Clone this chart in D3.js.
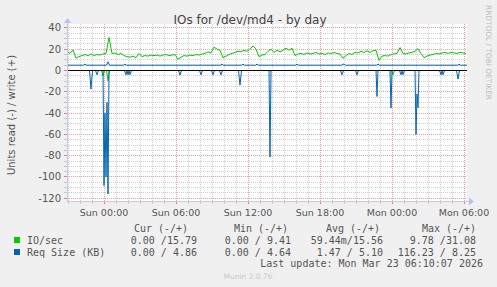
<!DOCTYPE html>
<html>
<head>
<meta charset="utf-8">
<script src="https://cdn.jsdelivr.net/npm/d3@7"></script>
<style>
  body { margin: 0; background: #f0f0f0; }
  svg { display: block; }
  text { white-space: pre; }
</style>
</head>
<body>
<script>
// IO/sec write (+), one value every 15 minutes from Sat 20:55
var ioWrite = [18, 16, 19.5, 11.5, 13, 14, 15, 14, 15.5, 14,
  15, 14.5, 15.5, 16, 31, 16, 16.5, 15, 16, 14,
  13, 12.5, 13.5, 12, 16, 13, 14, 13.5, 14.5, 14,
  14.5, 13.5, 14.5, 15, 14, 14.5, 15, 10.5, 12.5, 14,
  13.5, 14.5, 14, 15, 14.5, 15.5, 16, 17.5, 16.5, 22,
  20, 19, 12, 13.5, 15, 16, 17, 18, 17.5, 19,
  18, 20, 23, 20, 13, 14.5, 15, 18, 20, 17,
  19, 17.5, 19, 21, 19, 21, 14, 15.5, 16, 15,
  16.5, 15.5, 16, 17, 15.5, 16, 15, 16.5, 16, 17,
  16, 15.5, 11.5, 14, 16, 15, 17, 16.5, 18, 17,
  18.5, 17, 18.5, 19, 9.5, 13.5, 14, 13.5, 15, 15.5,
  16, 21.5, 16, 15.5, 16.5, 17, 18, 20.5, 16, 12,
  13.5, 14.5, 15, 16, 15.5, 16.5, 17, 16, 17, 16.5,
  16, 17, 16.5, 16];

// [5-minute step, value] points
var reqWrite = [[0, 5], [16.5, 5], [18, 6], [19.5, 5], [39.5, 5], [41, 8.2], [42.5, 5],
  [56.5, 5], [58, 6], [59.5, 5], [153.5, 5], [155, 6], [156.5, 5], [174.5, 5], [176, 6], [177.5, 5],
  [188.5, 5], [190, 6], [191.5, 5], [228.5, 5], [230, 6], [231.5, 5], [274.5, 5], [276, 6], [277, 6],
  [278.5, 5], [309.5, 5], [311, 6], [312.5, 5], [390.5, 5], [392, 6], [393.5, 5], [400, 5]];

var ioRead = [[0, 0], [34.5, 0], [36, -5], [37.5, 0], [39.5, 0], [41, -9.8], [42.5, 0],
  [324.5, 0], [326, -4], [327.5, 0], [400, 0]];

var reqRead = [[0, 0], [22.5, 0], [24, -17.5], [25.5, 0], [28.5, 0], [30, -4], [31.5, 0],
  [36, 0], [37, -108], [38, -40], [39, -100], [40, -30], [41, -116], [42, 0],
  [57.5, 0], [59, -4], [60, 0], [61, -4], [62, 0], [63, -4], [64.5, 0],
  [111.5, 0], [113, -4.3], [114.5, 0], [132.5, 0], [134, -4], [135.5, 0],
  [144.5, 0], [146, -4], [147.5, 0], [152.5, 0], [154, -4], [155.5, 0],
  [171.5, 0], [173, -13.7], [174.5, 0], [202, 0], [203, -81.3], [204, 0],
  [273.5, 0], [275, -4], [276.5, 0], [288.5, 0], [290, -4], [291.5, 0],
  [309, 0], [310, -24.4], [311, 0], [323, 0], [324, -35.3], [325, 0],
  [332.5, 0], [334, -4], [335, 0], [336, -4], [337.5, 0],
  [348, 0], [349, -60], [350, -22], [351, -35], [352, 0],
  [372.5, 0], [374, -4], [375, 0], [376, -4], [377.5, 0],
  [389.5, 0], [391, -8], [392.5, 0], [400, 0]];

var yTicks = [-120, -100, -80, -60, -40, -20, 0, 20, 40];
var xTickLabels = ["Sun 00:00", "Sun 06:00", "Sun 12:00", "Sun 18:00", "Mon 00:00", "Mon 06:00"];
var legendHead = ["Cur (-/+)", "Min (-/+)", "Avg (-/+)", "Max (-/+)"];
var seriesNames = ["IO/sec", "Req Size (KB)"];
var seriesColors = ["#00cc00", "#0066b3"];
var ioStats = ["0.00 /15.79", "0.00 / 9.41", "59.44m/15.56", "9.78 /31.08"];
var reqStats = ["0.00 / 4.86", "0.00 / 4.64", "1.47 / 5.10", "116.23 / 8.25"];

var w = 497, h = 287;
var padL = 67, padR = 467, padT = 24, padB = 201;
var start = new Date(2026, 2, 21, 20, 55);
var end = new Date(start.getTime() + 400 * 5 * 60000);
var step5 = function(k) { return new Date(start.getTime() + k * 5 * 60000); };

var svg = d3.select("body").append("svg").attr("width", w).attr("height", h);
svg.append("rect").attr("width", w).attr("height", h).attr("fill", "#f0f0f0");

var x = d3.scaleTime().domain([start, end]).range([padL, padR]);
var y = d3.scaleLinear().domain([-122.54, 43.66]).range([padB, padT]);

svg.append("rect").attr("x", padL).attr("y", padT)
   .attr("width", padR - padL).attr("height", padB - padT).attr("fill", "#ffffff");

// grid
var grid = svg.append("g").attr("shape-rendering", "crispEdges");
var minorY = d3.range(-120, 41, 5);
grid.selectAll(".hmin").data(minorY.filter(function(v) { return v % 20 != 0; }))
  .enter().append("line")
  .attr("x1", padL).attr("x2", padR)
  .attr("y1", function(d) { return Math.floor(y(d)) + 0.5; })
  .attr("y2", function(d) { return Math.floor(y(d)) + 0.5; })
  .attr("stroke", "#d0d0d0").attr("stroke-dasharray", "1,1");

var hours = d3.timeHour.range(start, end);
grid.selectAll(".vmin").data(hours.filter(function(d) { return d.getHours() % 6 != 0; }))
  .enter().append("line")
  .attr("x1", function(d) { return Math.round(x(d)) + 0.5; })
  .attr("x2", function(d) { return Math.round(x(d)) + 0.5; })
  .attr("y1", padT).attr("y2", padB)
  .attr("stroke", "#d0d0d0").attr("stroke-dasharray", "1,1");

grid.selectAll(".hmaj").data(yTicks).enter().append("line")
  .attr("x1", padL).attr("x2", padR)
  .attr("y1", function(d) { return Math.floor(y(d)) + 0.5; })
  .attr("y2", function(d) { return Math.floor(y(d)) + 0.5; })
  .attr("stroke", "#e8a0a0").attr("stroke-dasharray", "1,1");

var majors = hours.filter(function(d) { return d.getHours() % 6 == 0; });
grid.selectAll(".vmaj").data(majors).enter().append("line")
  .attr("x1", function(d) { return Math.round(x(d)) + 0.5; })
  .attr("x2", function(d) { return Math.round(x(d)) + 0.5; })
  .attr("y1", padT).attr("y2", padB)
  .attr("stroke", "#e8a0a0").attr("stroke-dasharray", "1,1");

// ticks under x axis and left of y axis
grid.selectAll(".tmin").data(hours).enter().append("line")
  .attr("x1", function(d) { return Math.round(x(d)) + 0.5; })
  .attr("x2", function(d) { return Math.round(x(d)) + 0.5; })
  .attr("y1", padB).attr("y2", padB + 3)
  .attr("stroke", function(d) { return d.getHours() % 6 == 0 ? "#e08080" : "#c8c8c8"; });
grid.selectAll(".tymin").data(minorY).enter().append("line")
  .attr("x1", padL - 3).attr("x2", padL)
  .attr("y1", function(d) { return Math.floor(y(d)) + 0.5; })
  .attr("y2", function(d) { return Math.floor(y(d)) + 0.5; })
  .attr("stroke", function(d) { return d % 20 == 0 ? "#e08080" : "#c8c8c8"; });

// series
var lineIdx = d3.line()
  .x(function(d, i) { return x(new Date(start.getTime() + i * 15 * 60000)); })
  .y(function(d) { return y(d); });
var linePts = d3.line()
  .x(function(d) { return x(step5(d[0])); })
  .y(function(d) { return y(d[1]); });

svg.append("path").datum(ioRead).attr("d", linePts)
  .attr("fill", "none").attr("stroke", seriesColors[0]).attr("stroke-width", 1);
svg.append("path").datum(ioWrite).attr("d", lineIdx)
  .attr("fill", "none").attr("stroke", seriesColors[0]).attr("stroke-width", 1);
svg.append("path").datum(reqRead).attr("d", linePts)
  .attr("fill", "none").attr("stroke", seriesColors[1]).attr("stroke-width", 1);
svg.append("path").datum(reqWrite).attr("d", linePts)
  .attr("fill", "none").attr("stroke", seriesColors[1]).attr("stroke-width", 1);

// zero line on top
svg.append("line").attr("x1", padL).attr("x2", padR)
  .attr("y1", y(0)).attr("y2", y(0))
  .attr("stroke", "#000").attr("stroke-width", 1.2).attr("shape-rendering", "crispEdges");

// axes
svg.append("line").attr("x1", padL + 0.5).attr("x2", padL + 0.5)
  .attr("y1", padT - 2).attr("y2", padB + 1)
  .attr("stroke", "#c8c8f0").attr("shape-rendering", "crispEdges");
svg.append("line").attr("x1", padL).attr("x2", padR + 2)
  .attr("y1", padB + 0.5).attr("y2", padB + 0.5)
  .attr("stroke", "#c8c8f0").attr("shape-rendering", "crispEdges");
svg.append("path").attr("d", "M" + (padL - 3) + "," + (padT - 1) + "L" + (padL + 0.5) + "," + (padT - 6) + "L" + (padL + 4) + "," + (padT - 1) + "Z")
  .attr("fill", "#b8c0f8");
svg.append("path").attr("d", "M" + (padR + 2) + "," + (padB - 3.5) + "L" + (padR + 7) + "," + (padB + 0.5) + "L" + (padR + 2) + "," + (padB + 4.5) + "Z")
  .attr("fill", "#b8c0f8");

// tick labels
svg.selectAll(".ylab").data(yTicks).enter().append("text")
  .attr("x", padL - 6).attr("y", function(d) { return y(d) + 3.5; })
  .attr("text-anchor", "end").attr("font-family", "DejaVu Sans").attr("font-size", "10px")
  .attr("fill", "#555").text(function(d) { return d; });

svg.selectAll(".xlab").data(majors.slice(0, xTickLabels.length)).enter().append("text")
  .attr("x", function(d) { return x(d); }).attr("y", 216)
  .attr("text-anchor", "middle").attr("font-family", "DejaVu Sans").attr("font-size", "9.5px")
  .attr("fill", "#555").text(function(d, i) { return xTickLabels[i]; });

// titles
svg.append("text").attr("x", 250).attr("y", 24).attr("text-anchor", "middle")
  .attr("font-family", "DejaVu Sans").attr("font-size", "12px").attr("fill", "#444")
  .text("IOs for /dev/md4 - by day");
svg.append("text").attr("transform", "translate(15,115) rotate(-90)")
  .attr("text-anchor", "middle").attr("font-family", "DejaVu Sans").attr("font-size", "10px")
  .attr("fill", "#555").text("Units read (-) / write (+)");
svg.append("text").attr("transform", "translate(486,5) rotate(90)")
  .attr("font-family", "DejaVu Sans").attr("font-size", "7.5px").attr("fill", "#c0c0c0")
  .attr("textLength", 95).attr("lengthAdjust", "spacingAndGlyphs")
  .text("RRDTOOL / TOBI OETIKER");

// legend
var mono = "DejaVu Sans Mono";
var headX = [161, 261, 353, 449];
var colEnd = [197, 291, 383, 476];
svg.selectAll(".lh").data(legendHead).enter().append("text")
  .attr("x", function(d, i) { return headX[i]; }).attr("y", 231.5)
  .attr("text-anchor", "middle").attr("font-family", mono).attr("font-size", "10px")
  .attr("fill", "#555").text(function(d) { return d; });

var rows = [ioStats, reqStats];
rows.forEach(function(stats, r) {
  var yy = 243.5 + r * 12;
  svg.append("rect").attr("x", 14).attr("y", yy - 6.5).attr("width", 6).attr("height", 6)
    .attr("fill", seriesColors[r]);
  svg.append("text").attr("x", 27).attr("y", yy)
    .attr("font-family", mono).attr("font-size", "10px").attr("fill", "#555")
    .text(seriesNames[r]);
  svg.selectAll(".st" + r).data(stats).enter().append("text")
    .attr("x", function(d, i) { return colEnd[i]; }).attr("y", yy)
    .attr("text-anchor", "end").attr("font-family", mono).attr("font-size", "10px")
    .attr("fill", "#555").text(function(d) { return d; });
});

svg.append("text").attr("x", 483).attr("y", 267).attr("text-anchor", "end")
  .attr("font-family", mono).attr("font-size", "10px").attr("fill", "#555")
  .text("Last update: Mon Mar 23 06:10:07 2026");
svg.append("text").attr("x", 248).attr("y", 279).attr("text-anchor", "middle")
  .attr("font-family", "DejaVu Sans").attr("font-size", "7.5px").attr("fill", "#c8c8c8")
  .text("Munin 2.0.76");
</script>
</body>
</html>
